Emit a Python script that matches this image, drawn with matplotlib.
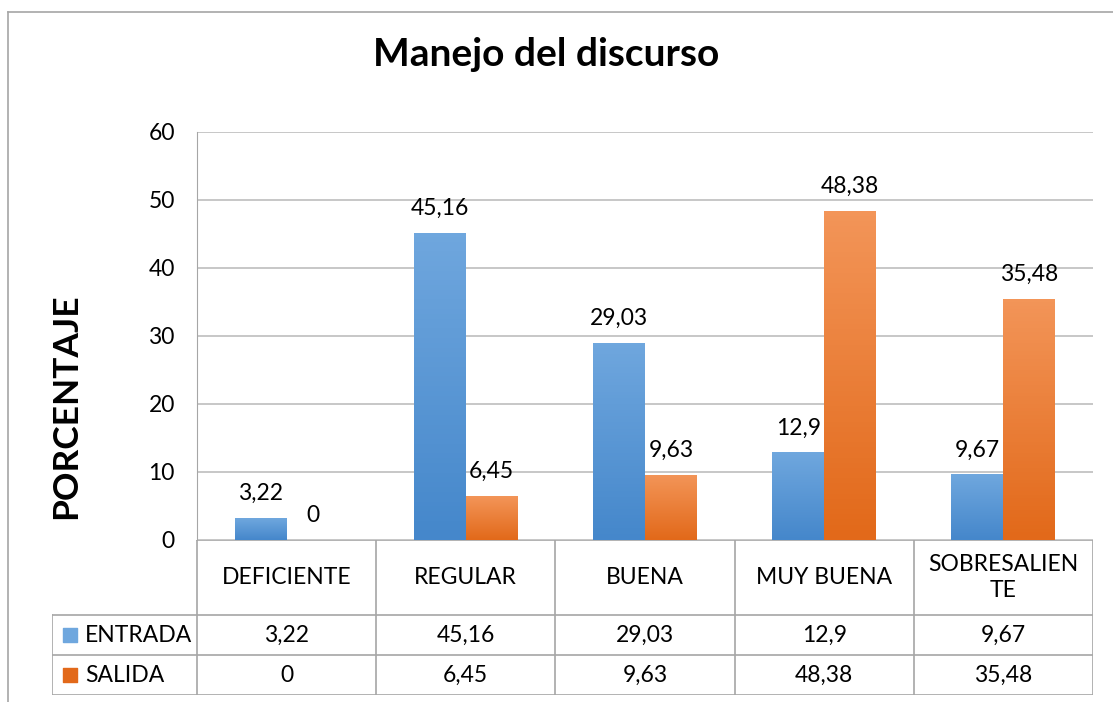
import numpy as np
import matplotlib
matplotlib.use("Agg")
import matplotlib.pyplot as plt
from matplotlib.lines import Line2D

plt.rcParams['font.family'] = ['Lato', 'DejaVu Sans']

categories = ['DEFICIENTE', 'REGULAR', 'BUENA', 'MUY BUENA', 'SOBRESALIEN\nTE']
series_names = ['ENTRADA', 'SALIDA']
entrada = [3.22, 45.16, 29.03, 12.9, 9.67]
salida = [0, 6.45, 9.63, 48.38, 35.48]
yticks = [0, 10, 20, 30, 40, 50, 60]

blue_top, blue_bot = '#6fa7de', '#4587cb'
orange_top, orange_bot = '#f39558', '#e2691a'
grid_col = '#bdbdbd'
fs = 16.5


def fmt(v):
    return ('%g' % v).replace('.', ',')


W, H = 1113, 702
fig = plt.figure(figsize=(W / 100, H / 100), dpi=100)

# chart border (left + top only, like the crop)
fig.add_artist(Line2D([8 / W, 8 / W], [0, 1 - 12 / H], color='#a6a6a6', lw=1.2))
fig.add_artist(Line2D([8 / W, 1], [1 - 12 / H, 1 - 12 / H], color='#a6a6a6', lw=1.2))

left, right, top, bottom = 197, 1093, 132, 540
ax = fig.add_axes([left / W, 1 - bottom / H, (right - left) / W, (bottom - top) / H])

x = np.arange(len(categories))
bw = 0.29


def grad_bars(xs, vals, ctop, cbot):
    bars = ax.bar(xs, vals, bw, color=cbot, zorder=3)
    cmap = matplotlib.colors.LinearSegmentedColormap.from_list('g', [cbot, ctop])
    for b in bars:
        h = b.get_height()
        if h <= 0:
            continue
        g = np.linspace(0, 1, 64).reshape(-1, 1)
        im = ax.imshow(g, cmap=cmap, aspect='auto', origin='lower',
                       extent=[b.get_x(), b.get_x() + b.get_width(), 0, h], zorder=4)
        im.set_clip_path(b)
    return bars


b1 = grad_bars(x - bw / 2, entrada, blue_top, blue_bot)
b2 = grad_bars(x + bw / 2, salida, orange_top, orange_bot)
for bars, vals in ((b1, entrada), (b2, salida)):
    for b, v in zip(bars, vals):
        ax.annotate(fmt(v), (b.get_x() + b.get_width() / 2, v), xytext=(0, 10),
                    textcoords='offset points', ha='center', va='bottom', fontsize=fs)

ax.set_xlim(-0.5, len(categories) - 0.5)
ax.set_ylim(0, 60)
ax.set_yticks(yticks)
ax.tick_params(axis='y', length=0, labelsize=fs, pad=16)
ax.set_xticks([])
ax.yaxis.grid(True, color=grid_col, lw=1.2, zorder=0)
ax.set_axisbelow(True)
for s in ['top', 'right', 'bottom']:
    ax.spines[s].set_visible(False)
ax.spines['left'].set_color('#a6a6a6')

fig.text(546 / W, 1 - 55 / H, 'Manejo del discurso', fontsize=28, fontweight='bold',
         ha='center', va='center')
fig.text(66 / W, 1 - 406 / H, 'PORCENTAJE', fontsize=25.5, fontweight='bold',
         rotation=90, ha='center', va='center')

# data table below the plot
tleft, tbot = 52, 695
unit = (right - left) / len(categories)
tab = fig.add_axes([tleft / W, 1 - tbot / H, (right - tleft) / W, (tbot - bottom) / H])
x0 = -0.5 - (left - tleft) / unit
tab.set_xlim(x0, len(categories) - 0.5)
rows = [0, 75, 115, 155]
tab.set_ylim(rows[-1], 0)
tab.axis('off')
lc = '#a6a6a6'
for i in range(len(categories) + 1):
    tab.plot([i - 0.5, i - 0.5], [0, rows[-1]], color=lc, lw=1.2)
tab.plot([x0, x0], [rows[1], rows[-1]], color=lc, lw=1.2)
tab.plot([-0.5, len(categories) - 0.5], [0, 0], color=lc, lw=1.2)
for r in rows[1:]:
    tab.plot([x0, len(categories) - 0.5], [r, r], color=lc, lw=1.2)
for i, c in enumerate(categories):
    tab.text(i, (rows[0] + rows[1]) / 2, c, ha='center', va='center', fontsize=fs,
             linespacing=1.3)
for k, (name, vals, col) in enumerate(((series_names[0], entrada, blue_top),
                                        (series_names[1], salida, orange_bot))):
    yc = (rows[k + 1] + rows[k + 2]) / 2
    tab.scatter([x0 + 0.1], [yc], marker='s', s=110, color=col, clip_on=False)
    tab.text(x0 + 0.185, yc, name, ha='left', va='center', fontsize=fs)
    for i, v in enumerate(vals):
        tab.text(i, yc, fmt(v), ha='center', va='center', fontsize=fs)

fig.savefig('out.png', dpi=100)
